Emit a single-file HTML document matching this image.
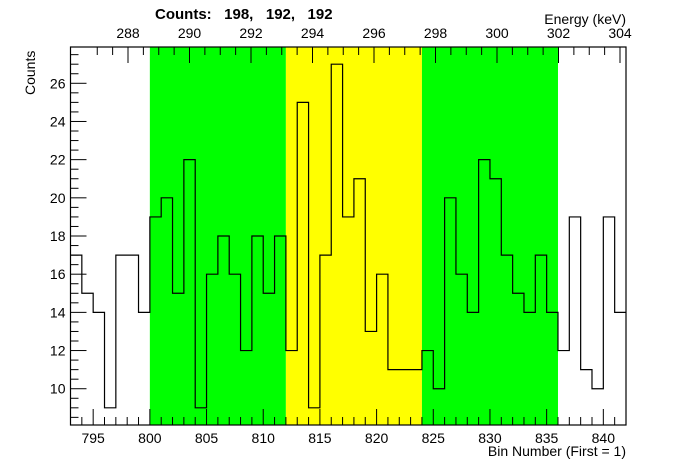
<!DOCTYPE html>
<html><head><meta charset="utf-8"><style>
html,body{margin:0;padding:0;background:#fff;}
svg{display:block;font-family:"Liberation Sans",sans-serif;}
</style></head><body>
<svg id="s" width="696" height="472" xmlns="http://www.w3.org/2000/svg">
<rect width="696" height="472" fill="#fff"/>
</svg>
<script>
const s=document.getElementById('s');
const L=70.5,R=626,T=47,B=425;
const bw=(R-L)/49;
const X=v=>L+(v-793)*bw;
const Y=v=>B-(v-8.1)*19.09;
let h='';
h+=`<rect x="${X(800)}" y="${T}" width="${X(812)-X(800)}" height="${B-T}" fill="#00ff00"/>`;
h+=`<rect x="${X(812)}" y="${T}" width="${X(824)-X(812)}" height="${B-T}" fill="#ffff00"/>`;
h+=`<rect x="${X(824)}" y="${T}" width="${X(836)-X(824)}" height="${B-T}" fill="#00ff00"/>`;
const d=[17,15,14,9,17,17,14,19,20,15,22,9,16,18,16,12,18,15,18,12,25,9,17,27,19,21,13,16,11,11,11,12,10,20,16,14,22,21,17,15,14,17,14,12,19,11,10,19,14];
let p=`M${L},${Y(d[0])}`;
for(let i=0;i<d.length;i++){
  if(i>0)p+=` L${X(793+i)},${Y(d[i])}`;
  p+=` L${X(794+i)},${Y(d[i])}`;
}
h+=`<path d="${p}" fill="none" stroke="#000" stroke-width="1.2"/>`;
h+=`<rect x="${L}" y="${T}" width="${R-L}" height="${B-T}" fill="none" stroke="#000" stroke-width="1.2"/>`;
for(let v=794;v<=842;v++){
  const x=X(v),len=(v%5==0)?16:8;
  h+=`<line x1="${x}" y1="${B}" x2="${x}" y2="${B-len}" stroke="#000"/>`;
  if(v%5==0)h+=`<text x="${x}" y="${443}" font-size="14" text-anchor="middle">${v}</text>`;
}
for(let v=8.5;v<=27.9;v+=0.5){
  const y=Y(v),maj=(Math.abs(v-Math.round(v))<0.01&&Math.round(v)%2==0);
  h+=`<line x1="${L}" y1="${y}" x2="${L+(maj?16:8)}" y2="${y}" stroke="#000"/>`;
  if(maj)h+=`<text x="${L-5}" y="${y+5}" font-size="14" text-anchor="end">${Math.round(v)}</text>`;
}
const EX=e=>128+(e-288)*30.75;
for(let e=287;e<=304.01;e+=0.5){
  const x=EX(e); if(x<L||x>R)continue;
  const maj=Math.abs(e-Math.round(e))<0.01&&Math.round(e)%2==0;
  h+=`<line x1="${x}" y1="${T}" x2="${x}" y2="${T+(maj?16:8)}" stroke="#000"/>`;
  if(maj)h+=`<text x="${x}" y="38" font-size="14" text-anchor="middle">${Math.round(e)}</text>`;
}
h+=`<text x="155" y="19" font-size="15" font-weight="bold" xml:space="preserve">Counts:   198,   192,   192</text>`;
h+=`<text x="626" y="24" font-size="14" text-anchor="end">Energy (keV)</text>`;
h+=`<text x="626" y="456" font-size="14" text-anchor="end">Bin Number (First = 1)</text>`;
h+=`<text transform="translate(35,95) rotate(-90)" font-size="14">Counts</text>`;
s.insertAdjacentHTML('beforeend',h);
</script>
</body></html>
